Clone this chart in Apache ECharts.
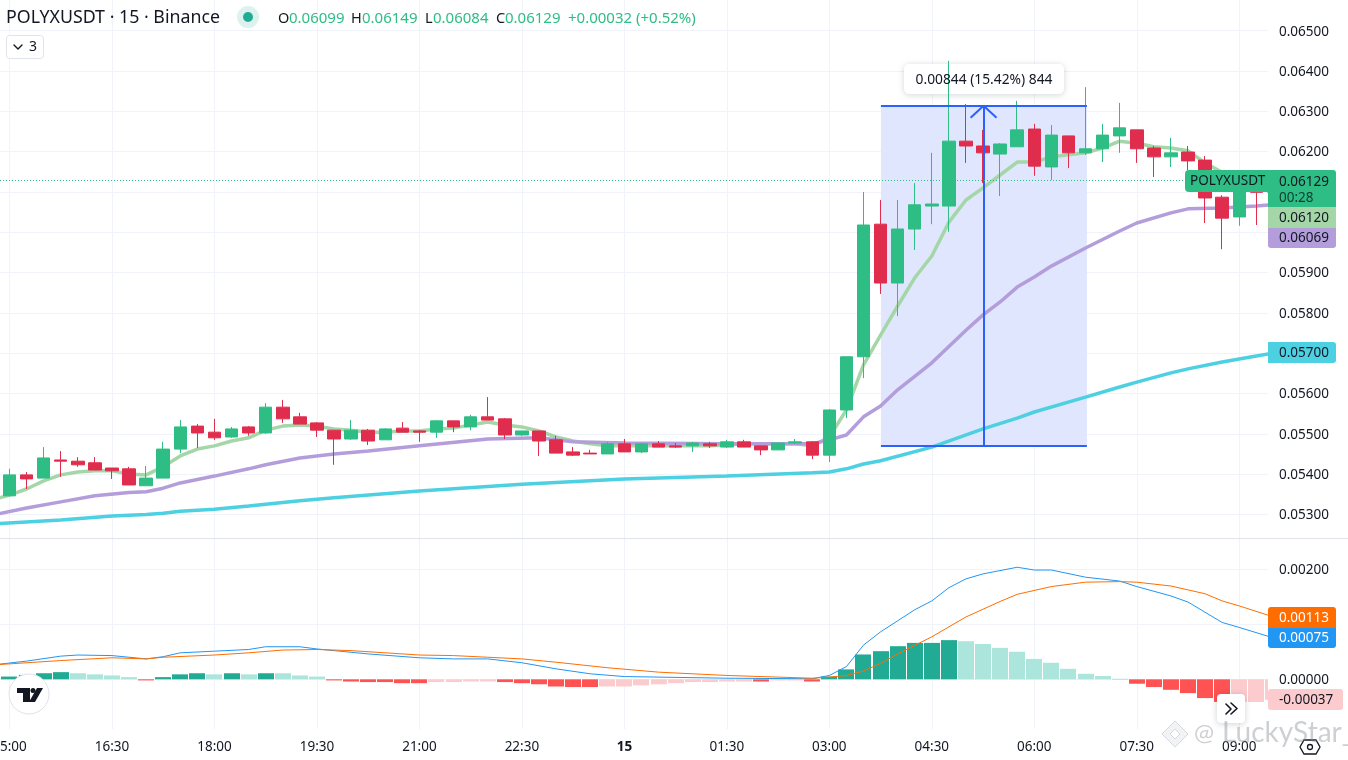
<!DOCTYPE html>
<html><head><meta charset="utf-8">
<style>html,body{margin:0;padding:0;background:#fff}#c{width:1348px;height:760px}</style>
<script src="https://cdn.jsdelivr.net/npm/echarts@6/dist/echarts.min.js"></script>
</head><body><div id="c"></div>
<script>
const timeTicks=[0,6,12,18,24,30,36,42,48,54,60,66,72];
const timeLabels=["15:00","16:30","18:00","19:30","21:00","22:30","15","01:30","03:00","04:30","06:00","07:30","09:00"];
const priceTicks=[0.053,0.054,0.055,0.056,0.057,0.058,0.059,0.060,0.061,0.062,0.063,0.064,0.065];
const macdTicks=[0,0.001,0.002];

const opens=[0.05346,0.05398,0.05390,0.05435,0.05432,0.05428,0.05415,0.05413,0.05371,0.05390,0.05462,0.05519,0.05504,0.05492,0.05517,0.05502,0.05566,0.05542,0.05527,0.05509,0.05487,0.05509,0.05485,0.05514,0.05507,0.05504,0.05532,0.05517,0.05542,0.05537,0.05497,0.05507,0.05485,0.05455,0.05452,0.05450,0.05475,0.05455,0.05475,0.05470,0.05470,0.05475,0.05467,0.05480,0.05470,0.05460,0.05477,0.05480,0.05447,0.05559,0.05691,0.06020,0.05874,0.06008,0.06065,0.06065,0.06226,0.06214,0.06194,0.06212,0.06256,0.06162,0.06239,0.06197,0.06207,0.06239,0.06254,0.06209,0.06187,0.06199,0.06179,0.06087,0.06038,0.06115,0.06099];
const closes=[0.05398,0.05388,0.05440,0.05432,0.05423,0.05410,0.05408,0.05373,0.05390,0.05462,0.05517,0.05502,0.05490,0.05512,0.05502,0.05566,0.05537,0.05524,0.05509,0.05487,0.05509,0.05482,0.05512,0.05504,0.05504,0.05532,0.05517,0.05542,0.05534,0.05497,0.05507,0.05482,0.05452,0.05447,0.05450,0.05475,0.05455,0.05475,0.05467,0.05467,0.05477,0.05470,0.05480,0.05467,0.05460,0.05477,0.05480,0.05447,0.05559,0.05691,0.06018,0.05874,0.06008,0.06068,0.06070,0.06226,0.06214,0.06197,0.06219,0.06254,0.06164,0.06241,0.06197,0.06207,0.06241,0.06259,0.06207,0.06187,0.06197,0.06177,0.06085,0.06035,0.06115,0.06099,0.06129];
const lows=[0.05346,0.05363,0.05390,0.05393,0.05418,0.05410,0.05388,0.05373,0.05371,0.05390,0.05452,0.05465,0.05485,0.05490,0.05495,0.05500,0.05527,0.05524,0.05492,0.05423,0.05485,0.05472,0.05485,0.05504,0.05480,0.05490,0.05504,0.05509,0.05534,0.05487,0.05495,0.05445,0.05452,0.05445,0.05450,0.05450,0.05455,0.05452,0.05467,0.05465,0.05455,0.05465,0.05465,0.05467,0.05447,0.05460,0.05475,0.05437,0.05430,0.05539,0.05638,0.05847,0.05792,0.05956,0.06020,0.06001,0.06172,0.06122,0.06090,0.06212,0.06140,0.06130,0.06159,0.06192,0.06174,0.06197,0.06172,0.06137,0.06162,0.06154,0.06023,0.05958,0.06016,0.06018,0.06084];
const highs=[0.05413,0.05405,0.05467,0.05457,0.05442,0.05442,0.05415,0.05418,0.05420,0.05480,0.05534,0.05524,0.05537,0.05517,0.05519,0.05576,0.05584,0.05552,0.05529,0.05509,0.05534,0.05512,0.05514,0.05529,0.05509,0.05534,0.05532,0.05547,0.05591,0.05539,0.05507,0.05507,0.05495,0.05467,0.05460,0.05480,0.05487,0.05477,0.05482,0.05477,0.05480,0.05480,0.05485,0.05485,0.05470,0.05477,0.05487,0.05482,0.05561,0.05691,0.06100,0.06080,0.06080,0.06122,0.06197,0.06425,0.06318,0.06254,0.06221,0.06326,0.06269,0.06266,0.06239,0.06360,0.06269,0.06321,0.06254,0.06214,0.06234,0.06214,0.06189,0.06092,0.06125,0.06125,0.06149];

// fast average, one reading per candle starting one candle off the left edge
const fastAvg=[0.05336,0.05348,0.05363,0.05383,0.05398,0.05405,0.05408,0.05408,0.05400,0.05398,0.05418,0.05445,0.05462,0.05470,0.05482,0.05490,0.05509,0.05519,0.05522,0.05519,0.05512,0.05509,0.05504,0.05504,0.05507,0.05507,0.05512,0.05514,0.05522,0.05529,0.05522,0.05517,0.05507,0.05492,0.05482,0.05475,0.05470,0.05470,0.05470,0.05470,0.05470,0.05470,0.05470,0.05472,0.05475,0.05475,0.05475,0.05475,0.05470,0.05492,0.05559,0.05671,0.05745,0.05817,0.05887,0.05941,0.06025,0.06080,0.06110,0.06142,0.06174,0.06174,0.06187,0.06192,0.06197,0.06209,0.06226,0.06221,0.06212,0.06209,0.06202,0.06172,0.06149,0.06132,0.06122,0.06120];
const midX=[-1,1,3,5,7,8,9,10,12,14,15,17,19,21,24,28,31,33,36,42,47,48,49,50,51,52,54,56,57,58,59,60,61,63,65,66,68,69,71,73,74];
const midAvg=[0.05298,0.05316,0.05331,0.05346,0.05354,0.05356,0.05365,0.05378,0.05395,0.05413,0.05423,0.05440,0.05450,0.05457,0.05470,0.05487,0.05490,0.05480,0.05477,0.05475,0.05475,0.05485,0.05497,0.05542,0.05569,0.05609,0.05676,0.05757,0.05795,0.05827,0.05864,0.05889,0.05916,0.05961,0.06003,0.06023,0.06048,0.06058,0.06060,0.06065,0.06069];
const slowX=[-1,3,6,8,9,10,12,14,17,19,24,30,36,42,47,48,49,50,51,54,57,59,60,63,65,66,68,69,71,73,74];
const slowAvg=[0.05276,0.05286,0.05296,0.05300,0.05303,0.05308,0.05313,0.05321,0.05334,0.05341,0.05358,0.05375,0.05388,0.05395,0.05403,0.05405,0.05413,0.05425,0.05433,0.05467,0.05512,0.05539,0.05554,0.05591,0.05616,0.05628,0.05651,0.05661,0.05678,0.05693,0.05700];

const macdX=[-1,1,3,4,6,8,9,10,12,14,15,17,18,20,21,24,26,28,30,32,34,36,42,47,48,49,50,51,52,53,54,55,56,57,59,60,61,63,65,66,68,69,71,72,74];
const macdVals=[0.00026,0.00033,0.00042,0.00044,0.00043,0.00037,0.00041,0.00048,0.00051,0.00054,0.00059,0.00059,0.00055,0.00049,0.00046,0.00039,0.00037,0.00037,0.00030,0.00019,0.00010,0.00005,0.00002,0.00001,0.00007,0.00023,0.00062,0.00086,0.00106,0.00126,0.00142,0.00166,0.00182,0.00191,0.00203,0.00198,0.00198,0.00185,0.00178,0.00168,0.00151,0.00140,0.00103,0.00094,0.00075];
const signalX=[-1,3,6,8,9,12,14,16,18,20,24,26,28,30,32,35,38,42,47,48,49,50,51,52,54,56,58,59,61,63,65,66,68,69,70,71,72,74];
const signalVals=[0.00026,0.00034,0.00039,0.00037,0.00040,0.00044,0.00048,0.00053,0.00054,0.00052,0.00044,0.00043,0.00040,0.00037,0.00031,0.00021,0.00013,0.00007,0.00002,0.00004,0.00007,0.00015,0.00029,0.00046,0.00077,0.00113,0.00141,0.00154,0.00168,0.00176,0.00177,0.00176,0.00169,0.00162,0.00155,0.00142,0.00133,0.00113];
const hist=[0.00005,0.00008,0.00011,0.00013,0.00011,0.00009,0.00007,0.00004,-0.00002,0.00004,0.00009,0.00011,0.00009,0.00011,0.00009,0.00011,0.00011,0.00007,0.00005,-0.00002,-0.00004,-0.00005,-0.00005,-0.00007,-0.00007,-0.00005,-0.00005,-0.00004,-0.00004,-0.00005,-0.00007,-0.00009,-0.00013,-0.00014,-0.00014,-0.00013,-0.00013,-0.00011,-0.00009,-0.00007,-0.00005,-0.00005,-0.00004,-0.00004,-0.00004,-0.00002,-0.00002,-0.00004,0.00005,0.00018,0.00045,0.00051,0.00060,0.00066,0.00066,0.00071,0.00069,0.00064,0.00057,0.00050,0.00037,0.00030,0.00019,0.00010,0.00006,0.00001,-0.00008,-0.00014,-0.00019,-0.00025,-0.00034,-0.00041,-0.00041,-0.00041,-0.00037];
// 1 = strong tone of the histogram bar, 0 = pale tone
const histStrong=[1,1,1,1,0,0,0,0,1,1,1,1,0,1,0,1,0,0,0,1,1,1,1,1,1,0,0,0,0,1,1,1,1,1,1,0,0,0,0,0,0,0,0,0,1,0,0,1,1,1,1,1,1,1,1,1,0,0,0,0,0,0,0,0,0,0,1,1,1,1,1,1,0,0,0];

const measureX=[51.02,63.08];
const measurePrice=[0.0547,0.06314];
const measureMidX=57.03;
const lastPrice=0.06129;

const FONT='"Noto Sans",sans-serif';
const INK='#131722', UP='#2ebd85', DOWN='#e12d4d', GRID='#f0f3fa', BLUE='#2962ff';
const HIST={up:['#ace5dc','#22ab94'],down:['#fccbcd','#ff5252']};

const txt=(x,y,text,o={})=>({type:'text',x,y,z:o.z||110,silent:true,style:{text,font:`${o.weight||'normal'} ${o.size||13.5}px ${o.family||FONT}`,fill:o.fill||INK,textAlign:o.align||'left',textVerticalAlign:'middle'}});
const box=(x,y,w,h,fill,o={})=>({type:'rect',z:o.z||100,silent:true,shape:{x,y,width:w,height:h,r:o.r||0},style:Object.assign({fill},o.style||{})});
const poly=(points,stroke,w,o={})=>({type:'polyline',z:o.z||110,silent:true,shape:{points},style:{stroke,lineWidth:w,fill:null,lineCap:'round',lineJoin:'round'}});
const gon=(points,o)=>({type:'polygon',z:110,silent:true,shape:{points},style:o});

const graphic=[
 {type:'line',z:1,silent:true,shape:{x1:0,y1:538.5,x2:1348,y2:538.5},style:{stroke:'#e0e3eb',lineWidth:1}},
 // header
 txt(6,18,'POLYXUSDT · 15 · Binance',{size:17.8}),
 {type:'circle',z:110,silent:true,shape:{cx:248,cy:17,r:11},style:{fill:'#ddf2ee'}},
 {type:'circle',z:110,silent:true,shape:{cx:248,cy:17,r:5},style:{fill:'#22ab94'}},
 txt(278,19,'O',{size:14.5}),txt(289,19,'0.06099',{size:15,fill:UP}),
 txt(351,19,'H',{size:14.5}),txt(362,19,'0.06149',{size:15,fill:UP}),
 txt(425,19,'L',{size:14.5}),txt(433,19,'0.06084',{size:15,fill:UP}),
 txt(496,19,'C',{size:14.5}),txt(505,19,'0.06129',{size:15,fill:UP}),
 txt(568,19,'+0.00032 (+0.52%)',{size:15,fill:UP}),
 {type:'rect',z:110,silent:true,shape:{x:6.5,y:35.5,width:37,height:23,r:3},style:{fill:'#fff',stroke:'#e0e3eb',lineWidth:1}},
 poly([[14,45],[18,49],[22,45]],INK,1.4),
 txt(29,47,'3',{size:14}),
 // measure label
 box(904,64,160,30,'#fff',{z:1,r:5,style:{shadowBlur:6,shadowColor:'rgba(19,23,34,.18)',shadowOffsetY:1}}),
 txt(984,80,'0.00844 (15.42%) 844',{align:'center',size:13.8}),
 // price tags
 box(1185,170,90,22,UP,{r:[4,0,0,4]}),
 box(1268,170,68,37,UP,{r:[0,3,0,0]}),
 txt(1190,181,'POLYXUSDT'),txt(1279,182,'0.06129'),txt(1279,198,'00:28',{fill:'#0f3d2e'}),
 box(1268,207,68,21,'#a5d6a7'),txt(1279,218.5,'0.06120'),
 box(1268,228,68,20,'#b39ddb',{r:[0,0,3,3]}),txt(1279,238.5,'0.06069'),
 box(1268,342,68,21,'#4dd0e1',{r:[0,3,3,0]}),txt(1279,353.5,'0.05700'),
 box(1268,607,68,21,'#ff6d00',{r:[3,3,0,0]}),txt(1279,618.5,'0.00113',{fill:'#fff'}),
 box(1268,628,68,20,'#2196f3',{r:[0,0,3,3]}),txt(1279,638.5,'0.00075',{fill:'#fff'}),
 box(1268,689,75,21,'#fccbcd',{r:3}),txt(1279,700.5,'-0.00037'),
 // TradingView badge
 {type:'circle',z:110,silent:true,shape:{cx:29,cy:694,r:20},style:{fill:'#fff',stroke:'#e0e3eb',lineWidth:1}},
 gon([[17,688],[30,688],[30,702],[23,702],[23,693],[17,693]],{fill:INK}),
 {type:'circle',z:111,silent:true,shape:{cx:33,cy:690.5,r:2.5},style:{fill:INK}},
 gon([[37,688],[43,688],[35,702],[29,702]],{fill:INK}),
 // scroll button
 box(1217,694,28,29,'#fff',{z:110,r:4,style:{shadowBlur:6,shadowColor:'rgba(19,23,34,.2)',shadowOffsetY:1}}),
 poly([[1226,704],[1231,709],[1226,714]],INK,1.6,{z:111}),
 poly([[1231,703],[1237,708.5],[1231,714]],INK,1.6,{z:111}),
 // settings glyph
 gon([[1304,740],[1316,740],[1320,747],[1316,754],[1304,754],[1300,747]],{fill:'#fff',stroke:INK,lineWidth:1.3}),
 {type:'circle',z:111,silent:true,shape:{cx:1310,cy:747,r:2.5},style:{fill:'#fff',stroke:INK,lineWidth:1.3}},
 // watermark
 gon([[1175,721],[1188,734],[1175,747],[1162,734]],{fill:'rgba(170,175,185,.15)',stroke:'rgba(170,175,185,.45)',lineWidth:1}),
 gon([[1175,729],[1180,734],[1175,739],[1170,734]],{fill:'#fff',stroke:'rgba(170,175,185,.45)',lineWidth:1}),
 txt(1194,733,'@',{size:24,fill:'rgba(130,135,145,.4)',z:112,family:'Lato,sans-serif'}),
 txt(1222,733,'LuckyStar_',{size:28,fill:'rgba(130,135,145,.4)',z:112,family:'Lato,sans-serif'})
];

const xBase={type:'value',min:-9.5/17.08,max:(1268-9.5)/17.08,axisLine:{show:false},
 splitLine:{show:true,lineStyle:{color:GRID,width:1}}};
const yBase={type:'value',position:'right',scale:true,axisLine:{show:false},
 axisLabel:{show:true,color:INK,fontFamily:FONT,fontSize:13.5,margin:11,formatter:v=>'{a|'+v.toFixed(5)+'}',
  rich:{a:{color:INK,fontFamily:FONT,fontSize:13.5,padding:[2,0,0,0]}}},
 splitLine:{show:true,lineStyle:{color:GRID,width:1}}};
const overlay=(name,x,y,color,w,xi,yi)=>({name,type:'line',xAxisIndex:xi,yAxisIndex:yi,data:x.map((k,i)=>[k,y[i]]),
 symbol:'none',lineStyle:{color,width:w},itemStyle:{color},silent:true,animation:false,z:2});

const chart=echarts.init(document.getElementById('c'),null,{renderer:'canvas'});
chart.setOption({
 animation:false,backgroundColor:'#fff',
 grid:[{left:0,top:0,width:1268,height:538,outerBoundsMode:'none'},{left:0,top:538,width:1268,height:191,outerBoundsMode:'none'}],
 xAxis:[
  Object.assign({},xBase,{gridIndex:0,axisTick:{show:false,customValues:timeTicks},axisLabel:{show:false,customValues:timeTicks}}),
  Object.assign({},xBase,{gridIndex:1,axisTick:{show:false,customValues:timeTicks},
    axisLabel:{show:true,customValues:timeTicks,color:INK,fontFamily:FONT,fontSize:13.5,margin:11,hideOverlap:false,showMinLabel:true,showMaxLabel:true,
     formatter:v=>{const l=timeLabels[timeTicks.indexOf(Math.round(v))];return l==='15'?'{b|15}':(l||'');},
     rich:{b:{fontWeight:'bold',fontFamily:FONT,fontSize:13.5,color:INK}}}})
 ],
 yAxis:[
  Object.assign({},yBase,{gridIndex:0,min:0.052414,max:0.065762,axisTick:{show:false,customValues:priceTicks},axisLabel:Object.assign({},yBase.axisLabel,{customValues:priceTicks})}),
  Object.assign({},yBase,{gridIndex:1,min:-0.0009,max:0.00256,axisTick:{show:false,customValues:macdTicks},axisLabel:Object.assign({},yBase.axisLabel,{customValues:macdTicks})})
 ],
 series:[
  overlay('fast',fastAvg.map((_,i)=>i-1),fastAvg,'#a5d6a7',3.5,0,0),
  overlay('mid',midX,midAvg,'#b39ddb',3.5,0,0),
  overlay('slow',slowX,slowAvg,'#4dd0e1',3.5,0,0),
  {name:'POLYXUSDT',type:'candlestick',xAxisIndex:0,yAxisIndex:0,barWidth:13,z:3,silent:true,
   data:opens.map((o,i)=>[i,o,closes[i],lows[i],highs[i]]),
   itemStyle:{color:UP,color0:DOWN,borderColor:UP,borderColor0:DOWN,borderWidth:1},
   markArea:{silent:true,z:1,itemStyle:{color:'#dfe6fd',opacity:1},
    data:[[{coord:[measureX[0],measurePrice[1]]},{coord:[measureX[1],measurePrice[0]]}]]},
   markLine:{silent:true,z:5,symbol:'none',animation:false,label:{show:false},precision:6,
    lineStyle:{color:BLUE,width:2,type:'solid'},
    data:[
     [{coord:[measureX[0],measurePrice[1]]},{coord:[measureX[1],measurePrice[1]]}],
     [{coord:[measureX[0],measurePrice[0]]},{coord:[measureX[1],measurePrice[0]]}],
     [{coord:[measureMidX,measurePrice[0]]},{coord:[measureMidX,measurePrice[1]]}],
     [{coord:[measureMidX-0.76,measurePrice[1]-0.0003]},{coord:[measureMidX,measurePrice[1]]}],
     [{coord:[measureMidX+0.76,measurePrice[1]-0.0003]},{coord:[measureMidX,measurePrice[1]]}],
     {yAxis:lastPrice,lineStyle:{type:[1,2],width:1,color:UP}}
    ]}},
  {name:'hist',type:'custom',xAxisIndex:1,yAxisIndex:1,silent:true,z:2,clip:true,
   encode:{x:0,y:1},
   data:hist.map((v,i)=>[i,v,histStrong[i]]),
   renderItem:(params,api)=>{
     const k=api.value(0),v=api.value(1);
     const top=api.coord([k,v]),base=api.coord([k,0]);
     const half=8;
     const rect=echarts.graphic.clipRectByRect(
       {x:Math.round(top[0]-half),y:Math.min(top[1],base[1]),width:half*2,height:Math.max(Math.abs(top[1]-base[1]),1)},
       {x:params.coordSys.x,y:params.coordSys.y,width:params.coordSys.width,height:params.coordSys.height});
     if(!rect) return null;
     return {type:'rect',shape:rect,style:{fill:HIST[v>=0?'up':'down'][api.value(2)]}};
   }},
  overlay('macd',macdX,macdVals,'#2196f3',1,1,1),
  overlay('signal',signalX,signalVals,'#ff6d00',1,1,1)
 ],
 graphic:{elements:graphic}
});
</script></body></html>
